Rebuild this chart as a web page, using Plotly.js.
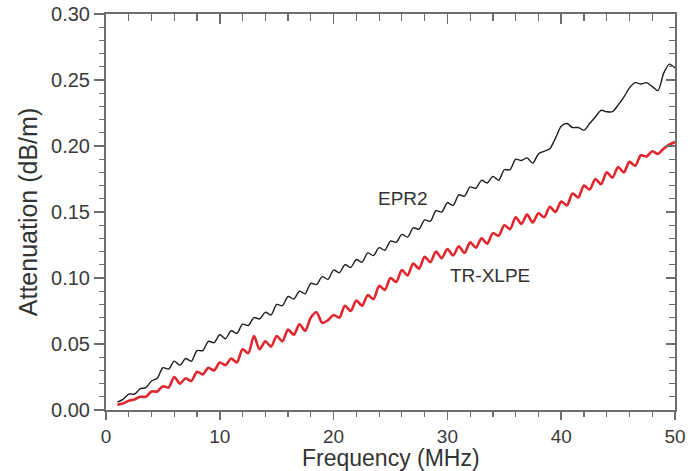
<!DOCTYPE html>
<html>
<head>
<meta charset="utf-8">
<script src="https://cdn.plot.ly/plotly-3.0.1.min.js"></script>
<style>html,body{margin:0;padding:0;background:#fff}#chart{width:697px;height:471px}</style>
</head>
<body>
<div id="chart"></div>
<script>
const freqMHz = [1,1.5,2,2.5,3,3.5,4,4.5,5,5.5,6,6.5,7,7.5,8,8.5,9,9.5,10,10.5,11,11.5,12,12.5,13,13.5,14,14.5,15,15.5,16,16.5,17,17.5,18,18.5,19,19.5,20,20.5,21,21.5,22,22.5,23,23.5,24,24.5,25,25.5,26,26.5,27,27.5,28,28.5,29,29.5,30,30.5,31,31.5,32,32.5,33,33.5,34,34.5,35,35.5,36,36.5,37,37.5,38,38.5,39,39.5,40,40.5,41,41.5,42,42.5,43,43.5,44,44.5,45,45.5,46,46.5,47,47.5,48,48.5,49,49.5,50];

const epr2 = [.006,.008,.012,.012,.016,.017,.022,.024,.032,.031,.037,.034,.039,.037,.045,.045,.052,.051,.057,.054,.060,.058,.065,.064,.070,.069,.074,.072,.080,.079,.086,.084,.090,.088,.096,.095,.101,.099,.106,.104,.110,.108,.114,.112,.119,.117,.123,.121,.128,.127,.133,.131,.138,.137,.144,.143,.151,.150,.157,.155,.163,.162,.169,.168,.174,.172,.177,.174,.182,.182,.190,.189,.191,.187,.194,.196,.198,.206,.215,.217,.214,.214,.212,.217,.222,.227,.226,.226,.231,.237,.244,.248,.247,.248,.245,.242,.255,.262,.259];

const trxlpe = [.004,.005,.007,.008,.010,.010,.014,.014,.018,.017,.025,.020,.024,.022,.029,.027,.032,.030,.036,.034,.039,.036,.046,.043,.056,.046,.052,.048,.056,.052,.061,.057,.065,.060,.070,.074,.066,.068,.072,.070,.079,.075,.083,.079,.087,.084,.094,.091,.100,.097,.106,.102,.111,.107,.116,.112,.120,.115,.122,.117,.124,.119,.127,.123,.130,.126,.134,.132,.140,.137,.146,.141,.148,.142,.149,.146,.154,.150,.158,.155,.164,.161,.170,.167,.175,.171,.180,.176,.184,.180,.188,.185,.193,.192,.196,.194,.198,.201,.203];

const seriesNames = ["EPR2", "TR-XLPE"];
const xTitle = "Frequency (MHz)";
const yTitle = "Attenuation (dB/m)";
const xRange = [0, 50];
const yRange = [0, 0.30];

const axisColor = "#6e6e6e";
const fontFam = "Liberation Sans, Arial, Helvetica, sans-serif";

const traces = [
  {x: freqMHz, y: epr2, name: seriesNames[0], type: "scatter", mode: "lines",
   line: {color: "#1e1e1e", width: 1.4, shape: "spline", smoothing: 0.8}, xaxis: "x", yaxis: "y"},
  {x: freqMHz, y: trxlpe, name: seriesNames[1], type: "scatter", mode: "lines",
   line: {color: "#e0262e", width: 2.6, shape: "spline", smoothing: 0.8}, xaxis: "x2", yaxis: "y2"}
];

const layout = {
  width: 697, height: 471,
  margin: {l: 106, r: 22, t: 14, b: 61},
  paper_bgcolor: "#fff", plot_bgcolor: "#fff",
  showlegend: false,
  font: {family: fontFam, color: "#333"},
  xaxis: {
    range: xRange, dtick: 10, tick0: 0, showgrid: false, zeroline: false,
    showline: true, linecolor: axisColor, linewidth: 2,
    ticks: "outside", ticklen: 8, tickwidth: 1.5, tickcolor: axisColor,
    minor: {dtick: 2, ticks: "outside", ticklen: 5, tickwidth: 1.2, tickcolor: axisColor, showgrid: false},
    tickfont: {size: 19, color: "#3a3a3a"}
  },
  yaxis: {
    range: yRange, dtick: 0.05, tick0: 0, tickformat: ".2f", showgrid: false, zeroline: false,
    showline: true, linecolor: axisColor, linewidth: 2,
    ticks: "outside", ticklen: 10, tickwidth: 1.5, tickcolor: axisColor,
    minor: {dtick: 0.01, ticks: "outside", ticklen: 5, tickwidth: 1.2, tickcolor: axisColor, showgrid: false},
    tickfont: {size: 20, color: "#3a3a3a"},
    title: {text: yTitle, font: {size: 25, color: "#333"}, standoff: 6}
  },
  xaxis2: {
    overlaying: "x", side: "top", anchor: "y2", range: xRange, dtick: 10, tick0: 0,
    showgrid: false, zeroline: false, showline: true, linecolor: axisColor, linewidth: 2,
    ticks: "inside", ticklen: 10, tickwidth: 1.5, tickcolor: axisColor, showticklabels: false,
    minor: {dtick: 2, ticks: "inside", ticklen: 7, tickwidth: 1.2, tickcolor: axisColor, showgrid: false}
  },
  yaxis2: {
    overlaying: "y", side: "right", anchor: "x2", range: yRange, dtick: 0.05, tick0: 0,
    showgrid: false, zeroline: false, showline: true, linecolor: axisColor, linewidth: 2,
    ticks: "inside", ticklen: 9, tickwidth: 1.5, tickcolor: axisColor, showticklabels: false,
    minor: {dtick: 0.01, ticks: "inside", ticklen: 6, tickwidth: 1.2, tickcolor: axisColor, showgrid: false}
  },
  annotations: [
    {x: 26.1, y: 0.160, xref: "x", yref: "y", text: seriesNames[0], showarrow: false,
     font: {size: 19, color: "#333"}},
    {x: 33.7, y: 0.102, xref: "x", yref: "y", text: seriesNames[1], showarrow: false,
     font: {size: 19, color: "#333"}},
    {x: 0.5, y: 0, xref: "paper", yref: "paper", yshift: -33, text: xTitle, showarrow: false,
     xanchor: "center", yanchor: "top", font: {size: 23, color: "#333"}}
  ]
};

Plotly.newPlot("chart", traces, layout, {displayModeBar: false, staticPlot: true});
</script>
</body>
</html>
